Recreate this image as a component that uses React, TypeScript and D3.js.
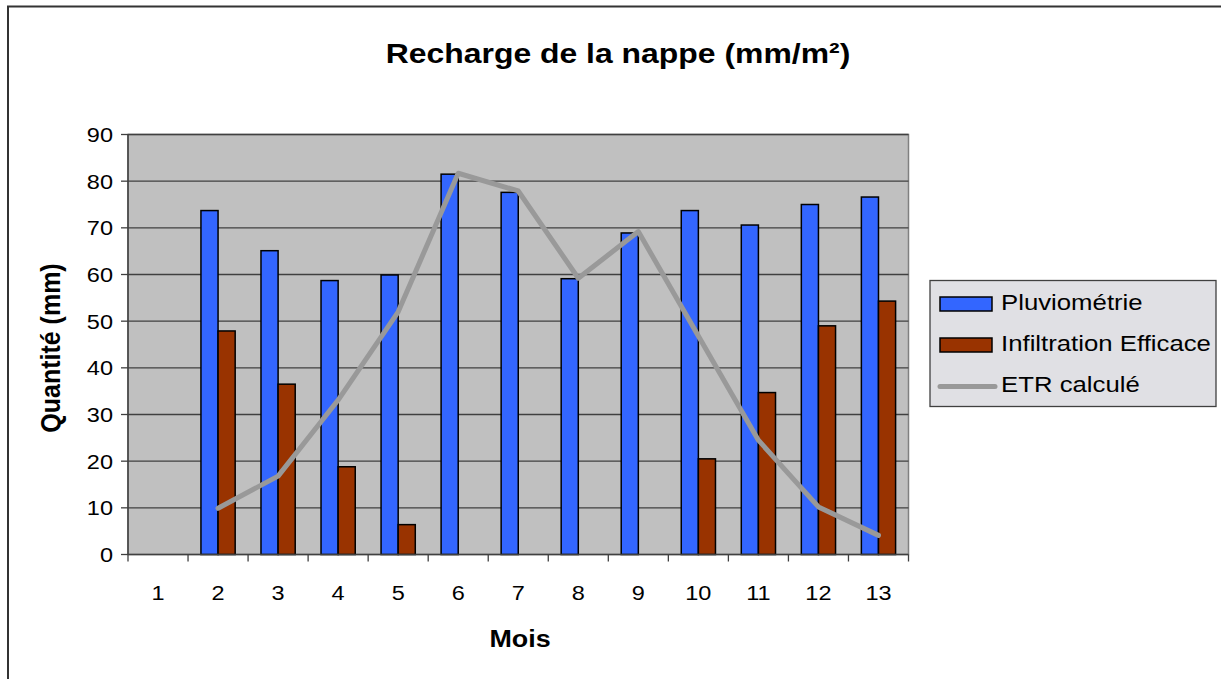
import React from "react";
import * as d3 from "d3";

const categories = ["1", "2", "3", "4", "5", "6", "7", "8", "9", "10", "11", "12", "13"];
const pluviometrie: (number | null)[] = [null, 73.7, 65.1, 58.7, 59.9, 81.5, 77.6, 59.1, 68.9, 73.7, 70.6, 75.0, 76.6];
const infiltration: (number | null)[] = [null, 47.9, 36.5, 18.8, 6.4, null, null, null, null, 20.5, 34.7, 49.0, 54.3];
const etr: (number | null)[] = [null, 9.9, 16.8, 33.1, 52.0, 81.7, 77.9, 59.2, 69.2, 46.8, 24.5, 10.2, 4.1];
const yTicks = [0, 10, 20, 30, 40, 50, 60, 70, 80, 90];
const seriesNames = ["Pluviométrie", "Infiltration Efficace", "ETR calculé"];

const W = 1221, H = 679;
const plot = { left: 128, right: 908.5, top: 134.5, bottom: 554.5 };
const FONT = "Liberation Sans, Arial, sans-serif";
const SX = 1.12;

function T(props: { x: number; y: number; size: number; anchor?: string; bold?: boolean; dy?: string; children: React.ReactNode }) {
  const { x, y, size, anchor = "start", bold = false, dy, children } = props;
  return (
    <text
      transform={`translate(${x},${y}) scale(${SX},1)`}
      textAnchor={anchor}
      fontSize={size}
      fontWeight={bold ? "bold" : "normal"}
      dy={dy}
      fill="#000"
    >
      {children}
    </text>
  );
}

export default function App() {
  const x = d3.scaleBand<string>().domain(categories).range([plot.left, plot.right]).paddingInner(0).paddingOuter(0);
  const y = d3.scaleLinear().domain([0, 90]).range([plot.bottom, plot.top]);
  const bw = x.bandwidth();
  const barW = bw * 0.285;
  const center = (c: string) => (x(c) as number) + bw / 2;

  const line = d3
    .line<[string, number | null]>()
    .defined((d) => d[1] != null)
    .x((d) => center(d[0]))
    .y((d) => y(d[1] as number));
  const linePath = line(categories.map((c, i) => [c, etr[i]] as [string, number | null])) || "";

  const boundaries = categories.map((c) => x(c) as number).concat([plot.right]);

  return (
    <svg width={W} height={H} style={{ position: "absolute", left: 0, top: 0 }} fontFamily={FONT}>
      <rect x={0} y={0} width={W} height={H} fill="#ffffff" />
      <rect x={8} y={6.5} width={1240} height={720} fill="none" stroke="#333" strokeWidth={2} />
      <T x={618} y={63} size={28.5} anchor="middle" bold>
        Recharge de la nappe (mm/m²)
      </T>

      <rect x={plot.left} y={plot.top} width={plot.right - plot.left} height={plot.bottom - plot.top} fill="#c0c0c0" stroke="#808080" strokeWidth={1.5} />
      {yTicks.slice(1).map((t) => (
        <line key={"g" + t} x1={plot.left} x2={plot.right} y1={y(t)} y2={y(t)} stroke="#404040" strokeWidth={1.3} />
      ))}

      {categories.map((c, i) => {
        const cx = center(c);
        const els: React.ReactNode[] = [];
        const p = pluviometrie[i];
        if (p != null)
          els.push(<rect key={"p" + c} x={cx - barW} y={y(p)} width={barW} height={y(0) - y(p)} fill="#3366ff" stroke="#000" strokeWidth={1.5} />);
        const f = infiltration[i];
        if (f != null)
          els.push(<rect key={"f" + c} x={cx} y={y(f)} width={barW} height={y(0) - y(f)} fill="#993300" stroke="#000" strokeWidth={1.5} />);
        return <g key={c}>{els}</g>;
      })}

      <path d={linePath} fill="none" stroke="#999999" strokeWidth={5} strokeLinejoin="round" strokeLinecap="round" />

      <line x1={plot.left} x2={plot.left} y1={plot.top} y2={plot.bottom} stroke="#404040" strokeWidth={1.5} />
      <line x1={plot.left} x2={plot.right} y1={plot.bottom} y2={plot.bottom} stroke="#404040" strokeWidth={1.5} />
      {yTicks.map((t) => (
        <g key={"y" + t}>
          <line x1={plot.left - 7} x2={plot.left} y1={y(t)} y2={y(t)} stroke="#404040" strokeWidth={1.3} />
          <T x={113} y={y(t)} size={21} anchor="end" dy="0.35em">
            {t}
          </T>
        </g>
      ))}
      {boundaries.map((b, i) => (
        <line key={"xt" + i} x1={b} x2={b} y1={plot.bottom} y2={plot.bottom + 7} stroke="#404040" strokeWidth={1.3} />
      ))}
      {categories.map((c) => (
        <T key={"xl" + c} x={center(c)} y={600} size={21} anchor="middle">
          {c}
        </T>
      ))}
      <T x={520} y={647} size={24} anchor="middle" bold>
        Mois
      </T>
      <text
        transform={`translate(60,348) scale(${SX},1) rotate(-90)`}
        textAnchor="middle"
        fontSize={25}
        fontWeight="bold"
        fill="#000"
      >
        Quantité (mm)
      </text>

      <rect x={930} y={280.5} width={286} height={126} fill="#e0e0e4" stroke="#404040" strokeWidth={1.3} />
      <rect x={940} y={297} width={52} height={14} fill="#3366ff" stroke="#000" strokeWidth={1.5} />
      <rect x={940} y={338} width={52} height={14} fill="#993300" stroke="#000" strokeWidth={1.5} />
      <line x1={940} x2={995} y1={386.5} y2={386.5} stroke="#999999" strokeWidth={5} strokeLinecap="round" />
      {seriesNames.map((n, i) => (
        <T key={n} x={1001} y={310 + i * 41} size={23}>
          {n}
        </T>
      ))}
    </svg>
  );
}
